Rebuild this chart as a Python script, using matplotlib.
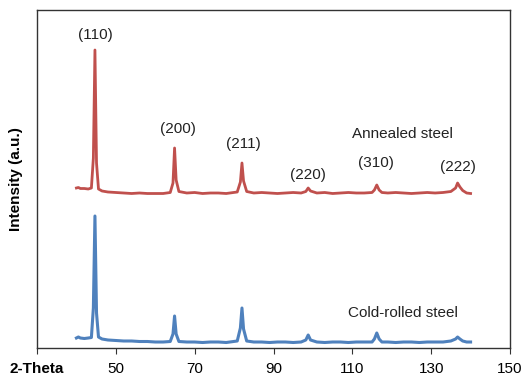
from matplotlib import pyplot as plt
import numpy as np

plt.rcParams['font.family'] = ['Liberation Sans', 'DejaVu Sans']

# datos (intensidad en unidades arbitrarias)
annealed_x = [40, 40.5, 41, 42, 43, 43.8, 44.3, 44.7, 45.1, 45.6, 46.5, 48, 50, 52, 54, 56, 58, 60,
              62, 63.8, 64.5, 64.9, 65.3, 66, 68, 70, 72, 74, 76, 78, 80.8, 81.6, 82.0, 82.4, 83.2,
              85, 87, 89, 91, 93, 95, 97, 98.2, 98.8, 99.4, 101, 103, 105, 107, 109, 111, 113, 115,
              115.6, 116.2, 116.8, 117.5, 119, 121, 123, 125, 127, 129, 131, 133, 135, 136.2, 136.7,
              137.3, 138, 139, 140]
annealed_y = [160, 160.5, 159.5, 159.5, 159, 160, 190, 298, 185, 159, 157, 156, 155.5, 155, 154.5, 155, 154.5, 154.5,
              154.5, 155.5, 165, 200, 168, 156.5, 155, 155.5, 154.5, 155, 155, 154.5, 156, 166, 185, 167, 156.5,
              155, 155.5, 155, 154.5, 155, 155.5, 155, 156.5, 160, 157, 155, 155.5, 154.5, 155, 155.5, 155, 155, 155.5,
              158, 163, 158, 155.5, 155, 155.5, 155, 154.5, 155, 155.5, 155, 155.5, 156.5, 160, 165,
              161, 157.5, 155, 154.5]

cold_x = [40, 40.5, 41, 42, 43, 43.8, 44.3, 44.7, 45.1, 45.6, 46.5, 48, 50, 52, 54, 56, 58, 60,
          62, 63.8, 64.5, 64.9, 65.3, 66, 68, 70, 72, 74, 76, 78, 80.8, 81.6, 82.0, 82.4, 83.2,
          85, 87, 89, 91, 93, 95, 97, 98.2, 98.8, 99.4, 101, 103, 105, 107, 109, 111, 113, 115,
          115.6, 116.2, 116.8, 117.5, 119, 121, 123, 125, 127, 129, 131, 133, 135, 136.2, 136.7,
          137.3, 138, 139, 140]
cold_y = [10, 11, 10, 9.5, 10, 10.5, 40, 132, 35, 11, 9, 8, 7.5, 7, 7, 6.5, 6.5, 6,
          6, 6.5, 14, 32, 14, 6.5, 6, 6, 5.5, 6, 6, 5.5, 7, 20, 40, 19, 7,
          6, 6, 5.5, 6, 6, 5.5, 6, 8, 13, 8, 6, 5.5, 6, 6, 5.5, 6, 6, 6,
          9, 15, 9, 6, 6, 5.5, 6, 6, 5.5, 6, 6, 6, 7, 9, 11,
          9, 7, 6, 6]

picos = ['(110)', '(200)', '(211)', '(220)', '(310)', '(222)']
picos_x = [44.7, 65.8, 82.3, 98.8, 116.0, 136.8]
picos_y = [313, 219, 204, 173, 185, 181]

ticks = [30, 50, 70, 90, 110, 130, 150]
tick_labels = ['2-Theta', '50', '70', '90', '110', '130', '150']

# GRAFICA
fig = plt.figure(figsize=(5.23, 3.76), dpi=100)
ax = fig.add_axes([37/523, 1-348/376, (510-37)/523, (348-10)/376])
ax.plot(annealed_x, annealed_y, color='#C0504D', lw=2)
ax.plot(cold_x, cold_y, color='#4F81BD', lw=2.2)

for t, x, y in zip(picos, picos_x, picos_y):
  ax.text(x, y, t, ha='center', va='center', fontsize=11, color='#222222')
ax.text(122.8, 214, 'Annealed steel', ha='center', va='center', fontsize=11, color='#222222')
ax.text(122.8, 35, 'Cold-rolled steel', ha='center', va='center', fontsize=11, color='#222222')

ax.set_xlim(30, 150)
ax.set_ylim(0, 338)
ax.set_xticks(ticks)
ax.set_xticklabels(tick_labels, fontsize=11)
ax.get_xticklabels()[0].set_fontweight('bold')
ax.set_yticks([])
ax.tick_params(axis='x', direction='out', length=4, pad=6, color='#333333')
ax.set_ylabel('Intensity (a.u.)', fontsize=11, fontweight='bold', labelpad=10)
for s in ax.spines.values():
  s.set_color('#333333')
  s.set_linewidth(1)

fig.savefig('out.png', dpi=100)
